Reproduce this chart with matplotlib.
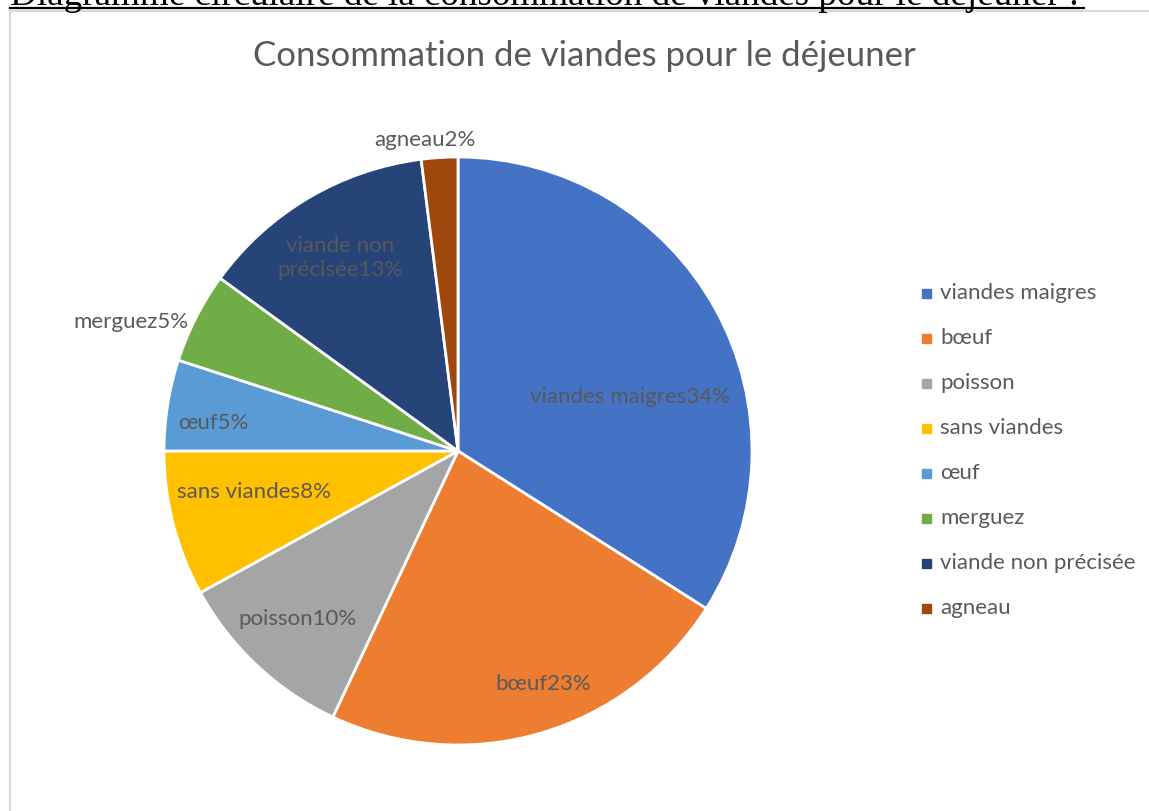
import matplotlib
matplotlib.use("Agg")
import matplotlib.pyplot as plt
from matplotlib.patches import Rectangle
from matplotlib.lines import Line2D

categories = ["viandes maigres", "bœuf", "poisson", "sans viandes", "œuf",
              "merguez", "viande non précisée", "agneau"]
values = [34, 23, 10, 8, 5, 5, 13, 2]
label_texts = ["viandes maigres34%", "bœuf23%", "poisson10%", "sans viandes8%",
               "œuf5%", "merguez5%", "viande non\nprécisée13%", "agneau2%"]
colors = ["#4472C4", "#ED7D31", "#A5A5A5", "#FFC000", "#5B9BD5", "#70AD47",
          "#264478", "#9E480E"]
# label positions in pie-radius units (style)
label_pos = [(0.585, 0.184), (0.289, -0.793), (-0.545, -0.571), (-0.694, -0.139),
             (-0.833, 0.095), (-1.112, 0.439), (-0.401, 0.656), (-0.112, 1.058)]

W, H = 1149, 811
fig = plt.figure(figsize=(W / 100, H / 100), dpi=100)
font = "Lato"
gray = "#595959"

# chart border (partially visible)
fig.add_artist(Line2D([10 / W, 10 / W], [0, 1 - 11 / H], transform=fig.transFigure,
                      color="#D9D9D9", lw=1.5))
fig.add_artist(Line2D([10 / W, 1], [1 - 11 / H, 1 - 11 / H], transform=fig.transFigure,
                      color="#D9D9D9", lw=1.5))

# clipped document heading
fig.text(10 / W, 1 - 5 / H,
         "Diagramme circulaire de la consommation de viandes pour le déjeuner :",
         fontsize=26.7, family="Liberation Serif", color="black", va="baseline", ha="left")
fig.add_artist(Line2D([10 / W, 1084 / W], [1 - 8 / H, 1 - 8 / H], transform=fig.transFigure,
                      color="black", lw=1.6))

fig.text(584 / W, 1 - 56 / H, "Consommation de viandes pour le déjeuner",
         ha="center", va="center", fontsize=25, family=font, color=gray)

cx, cy, R = 458, 451, 294
ax = fig.add_axes([(cx - R) / W, (H - cy - R) / H, 2 * R / W, 2 * R / H])
wedges, _ = ax.pie(values, colors=colors, startangle=90, counterclock=False,
                   radius=1, wedgeprops=dict(edgecolor="white", linewidth=2))
ax.set_xlim(-1, 1)
ax.set_ylim(-1, 1)
ax.set_aspect("equal")
ax.axis("off")

for txt, (px, py) in zip(label_texts, label_pos):
    ax.text(px, py, txt, ha="center", va="center", fontsize=16, family=font,
            color=gray, clip_on=False, linespacing=1.25)

# legend
y0, dy = 293, 45
for i, (cat, col) in enumerate(zip(categories, colors)):
    y = y0 + i * dy
    fig.add_artist(Rectangle(((922) / W, 1 - (y + 5) / H), 9 / W, 9 / H,
                             transform=fig.transFigure, color=col))
    fig.text(940 / W, 1 - y / H, cat, ha="left", va="center", fontsize=16,
             family=font, color=gray)

fig.savefig("out.png", dpi=100)
